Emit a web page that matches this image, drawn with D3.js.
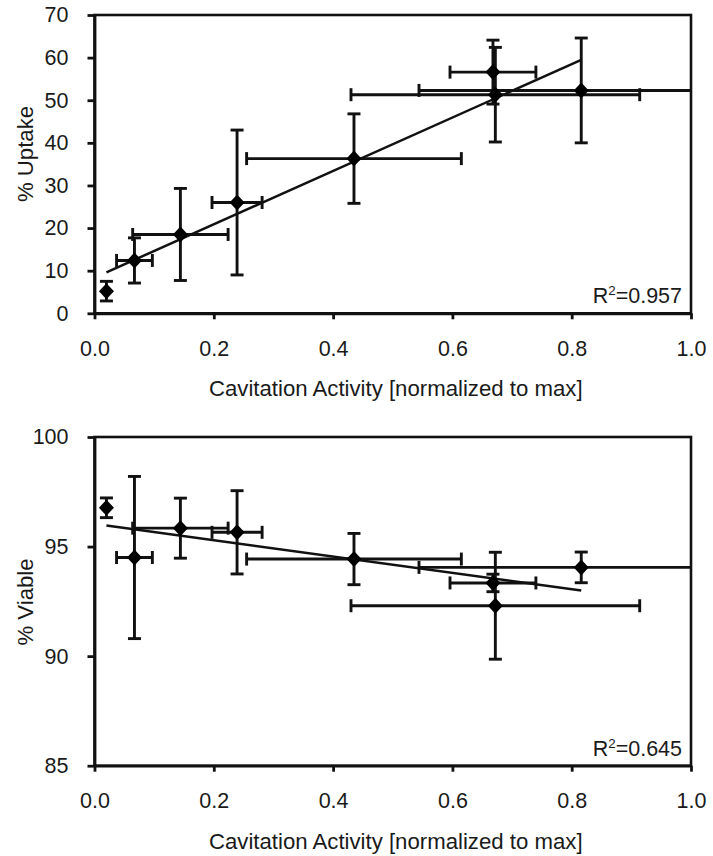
<!DOCTYPE html>
<html>
<head>
<meta charset="utf-8">
<script src="https://cdn.jsdelivr.net/npm/d3@7"></script>
<style>
  html, body { margin: 0; padding: 0; background: #fff; }
  svg text { font-family: "Liberation Sans", Arial, sans-serif; fill: #1a1a1a; }
</style>
</head>
<body>
<svg id="chart" width="713" height="856"></svg>
<script>
// ---- data ----
const cavitation    = [0.02, 0.067, 0.144, 0.239, 0.435, 0.668, 0.672, 0.816];
const cavitationErr = [0, 0.03, 0.08, 0.042, 0.18, 0.072, 0.242, 0.272];
const uptake        = [5.2, 12.4, 18.5, 26.0, 36.3, 56.6, 51.3, 52.3];
const uptakeErr     = [2.3, 5.3, 10.8, 17.0, 10.5, 7.5, 11.1, 12.3];
const viable        = [96.77, 94.5, 95.84, 95.65, 94.43, 93.34, 92.3, 94.05];
const viableErr     = [0.45, 3.7, 1.37, 1.9, 1.17, 0.4, 2.44, 0.7];
const xTicks        = [0, 0.2, 0.4, 0.6, 0.8, 1.0];
const uptakeTicks   = [0, 10, 20, 30, 40, 50, 60, 70];
const viableTicks   = [85, 90, 95, 100];
const xTitle        = "Cavitation Activity [normalized to max]";
const uptakeTitle   = "% Uptake";
const viableTitle   = "% Viable";
const uptakeR2      = "0.957";
const viableR2      = "0.645";

const svg = d3.select("#chart");
const FS = 21.5;

function panel(opts) {
  const { top, bottom, left, right, yDomain, yTicks, ys, yErr, yTitle, yTitleY, r2 } = opts;
  const x = d3.scaleLinear().domain([0, 1]).range([left, right]);
  const y = d3.scaleLinear().domain(yDomain).range([bottom, top]);
  const g = svg.append("g");

  // frame
  g.append("rect").attr("x", left).attr("y", top)
    .attr("width", right - left).attr("height", bottom - top)
    .attr("fill", "none").attr("stroke", "#111").attr("stroke-width", 2.6);

  // x axis
  const xa = g.append("g").attr("transform", `translate(0,${bottom})`)
    .call(d3.axisBottom(x).tickValues(xTicks).tickFormat(d3.format(".1f")).tickSizeOuter(0).tickSizeInner(6).tickPadding(21));
  // y axis
  const ya = g.append("g").attr("transform", `translate(${left},0)`)
    .call(d3.axisLeft(y).tickValues(yTicks).tickSizeOuter(0).tickSizeInner(7).tickPadding(19));
  [xa, ya].forEach(a => {
    a.select(".domain").attr("stroke", "#111").attr("stroke-width", 2.8);
    a.selectAll(".tick line").attr("stroke", "#111").attr("stroke-width", 2.8);
    a.selectAll(".tick text").attr("font-size", FS).attr("fill", "#1a1a1a")
      .attr("font-family", "Liberation Sans, Arial, sans-serif");
  });

  // axis titles
  g.append("text").attr("x", (left + right) / 2 + 3).attr("y", bottom + 83)
    .attr("text-anchor", "middle").attr("font-size", FS + 0.7).text(xTitle);
  g.append("text").attr("transform", `translate(33,${yTitleY}) rotate(-90)`)
    .attr("text-anchor", "middle").attr("font-size", FS + 0.7).attr("fill", "#333").text(yTitle);

  // regression line (least squares)
  const n = cavitation.length;
  const mx = d3.mean(cavitation), my = d3.mean(ys);
  let sxy = 0, sxx = 0;
  for (let i = 0; i < n; i++) { sxy += (cavitation[i] - mx) * (ys[i] - my); sxx += (cavitation[i] - mx) ** 2; }
  const slope = sxy / sxx, icpt = my - slope * mx;
  const x0 = d3.min(cavitation), x1 = d3.max(cavitation);
  g.append("line").attr("x1", x(x0)).attr("y1", y(icpt + slope * x0))
    .attr("x2", x(x1)).attr("y2", y(icpt + slope * x1))
    .attr("stroke", "#111").attr("stroke-width", 2.5);

  const cap = 6.5;
  const eb = g.append("g").attr("stroke", "#111").attr("stroke-width", 2.9).attr("fill", "none");
  cavitation.forEach((cx, i) => {
    // vertical error bars
    const yt = y(ys[i] + yErr[i]), yb = y(ys[i] - yErr[i]), px = x(cx), py = y(ys[i]);
    eb.append("line").attr("x1", px).attr("x2", px).attr("y1", yt).attr("y2", yb);
    eb.append("line").attr("x1", px - cap).attr("x2", px + cap).attr("y1", yt).attr("y2", yt);
    eb.append("line").attr("x1", px - cap).attr("x2", px + cap).attr("y1", yb).attr("y2", yb);
    // horizontal error bars
    if (cavitationErr[i] > 0) {
      const lo = cx - cavitationErr[i], hi = cx + cavitationErr[i];
      const xl = x(Math.max(0, lo)), xr = x(Math.min(1, hi));
      eb.append("line").attr("x1", xl).attr("x2", xr).attr("y1", py).attr("y2", py);
      if (lo >= 0) eb.append("line").attr("x1", xl).attr("x2", xl).attr("y1", py - cap).attr("y2", py + cap);
      if (hi <= 1) eb.append("line").attr("x1", xr).attr("x2", xr).attr("y1", py - cap).attr("y2", py + cap);
    }
  });

  // diamonds
  g.append("g").selectAll("path").data(cavitation).join("path")
    .attr("transform", (d, i) => `translate(${x(d)},${y(ys[i])})`)
    .attr("d", "M0,-8L7.5,0L0,8L-7.5,0Z").attr("fill", "#000");

  // R^2 label
  const t = g.append("text").attr("x", right - 9).attr("y", bottom - 10)
    .attr("text-anchor", "end").attr("font-size", FS);
  t.append("tspan").text("R");
  t.append("tspan").attr("font-size", FS * 0.62).attr("dy", -8).text("2");
  t.append("tspan").attr("dy", 8).text("=" + r2);
}

panel({ top: 15, bottom: 313.3, left: 94.5, right: 691,
  yDomain: [0, 70], yTicks: uptakeTicks, ys: uptake, yErr: uptakeErr,
  yTitle: uptakeTitle, yTitleY: 154, r2: uptakeR2 });
panel({ top: 437, bottom: 765.7, left: 94.5, right: 691,
  yDomain: [85, 100], yTicks: viableTicks, ys: viable, yErr: viableErr,
  yTitle: viableTitle, yTitleY: 602, r2: viableR2 });
</script>
</body>
</html>
